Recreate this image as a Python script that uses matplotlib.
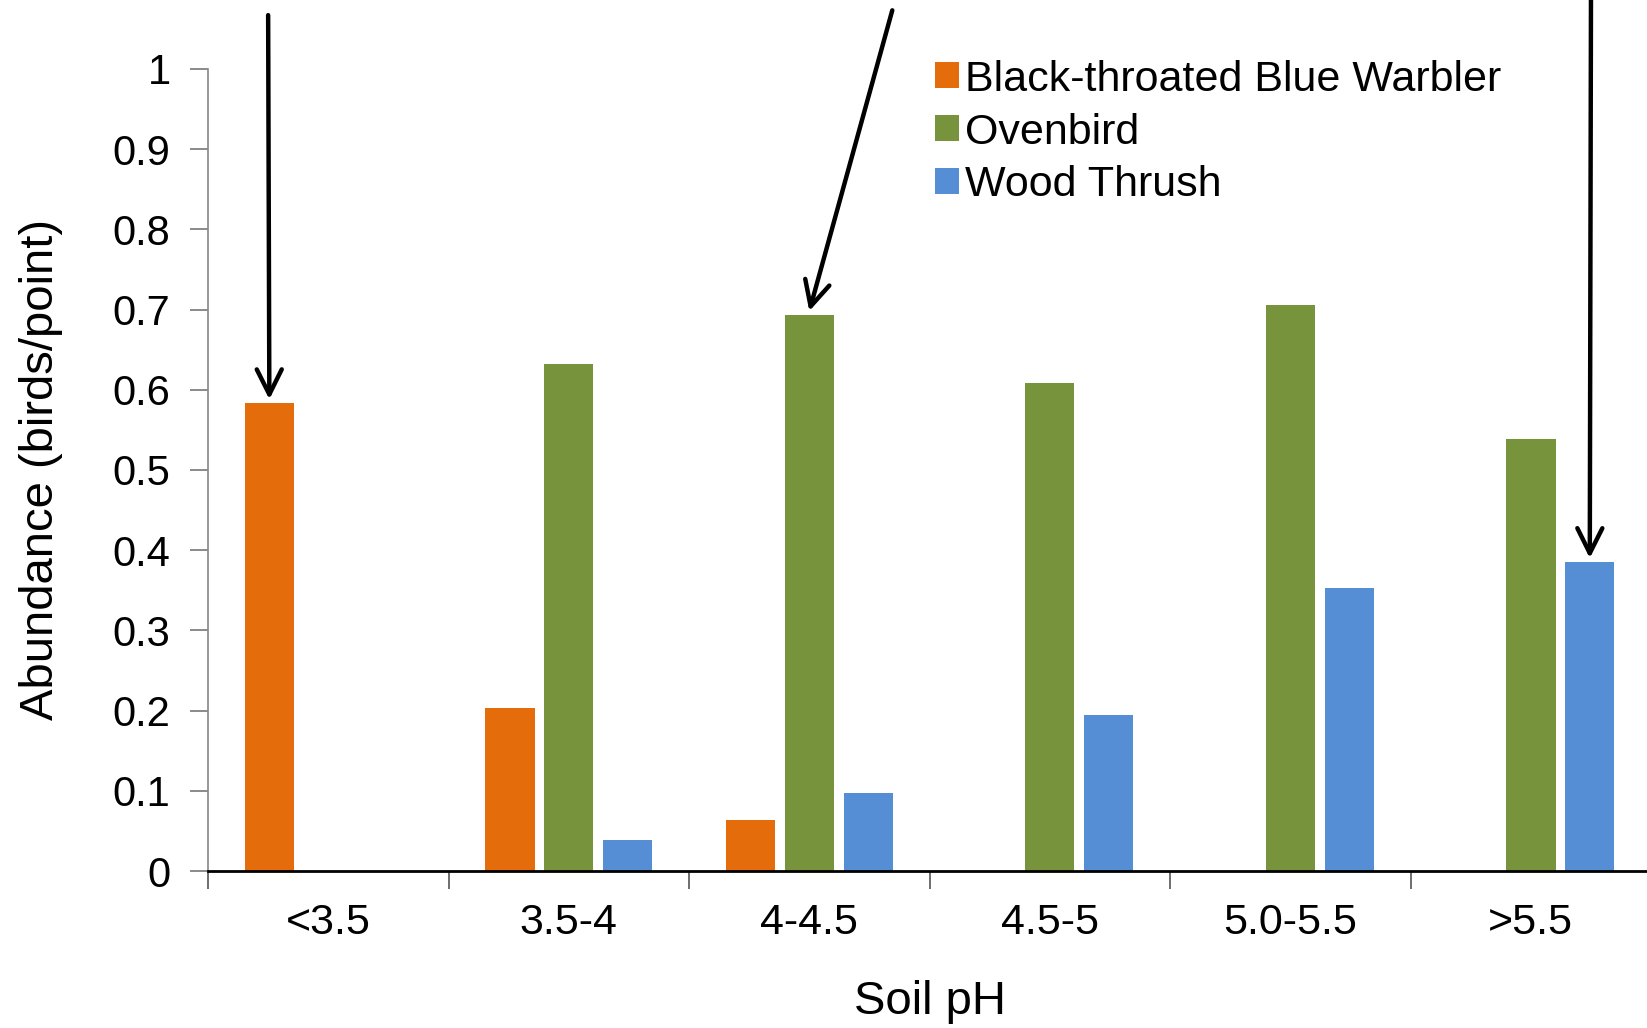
import numpy as np
import matplotlib.pyplot as plt

plt.rcParams['font.family'] = ['Liberation Sans', 'DejaVu Sans']

# soil pH classes and abundance per species (birds/point)
ph_classes = ['<3.5', '3.5-4', '4-4.5', '4.5-5', '5.0-5.5', '>5.5']
species = ['Black-throated Blue Warbler', 'Ovenbird', 'Wood Thrush']
warbler = [0.583, 0.203, 0.064, 0.0, 0.0, 0.0]
ovenbird = [0.0, 0.632, 0.693, 0.609, 0.706, 0.539]
thrush = [0.0, 0.039, 0.097, 0.195, 0.353, 0.385]
colors = ['#E46C0A', '#77933C', '#558ED5']

fig = plt.figure(figsize=(16.47, 10.28), dpi=100)
ax = fig.add_axes([0.1263, 0.1527, 0.8762, 0.7803])

x = np.arange(len(ph_classes))
width = 0.205
offset = 0.245
for i, (vals, name, col) in enumerate(zip([warbler, ovenbird, thrush], species, colors)):
    ax.bar(x + (i - 1) * offset, vals, width, color=col, label=name, zorder=2)

ax.set_xlim(-0.5, len(ph_classes) - 0.5)
ax.set_ylim(0, 1)
ax.set_yticks(np.arange(0, 1.01, 0.1))
ax.set_yticklabels(['0'] + ['%.1f' % v for v in np.arange(0.1, 0.95, 0.1)] + ['1'])

ax.set_xticks(x)
ax.set_xticklabels(ph_classes, fontsize=31)
ax.set_xticks(np.arange(-0.5, len(ph_classes)), minor=True)
ax.tick_params(axis='x', which='major', length=0, pad=23)
ax.tick_params(axis='x', which='minor', length=13, width=1.2, color='#555555')
ax.tick_params(axis='y', labelsize=30, length=13, width=1.2, color='#777777', pad=14)

for s in ['top', 'right']:
    ax.spines[s].set_visible(False)
ax.spines['left'].set_color('#888888')
ax.spines['left'].set_linewidth(1.2)
ax.spines['bottom'].set_linewidth(2)

ax.set_xlabel('Soil pH', fontsize=34, labelpad=27)
ax.set_ylabel('Abundance (birds/point)', fontsize=34, labelpad=36)

leg = ax.legend(loc='upper left', bbox_to_anchor=(0.492, 1.033), frameon=False,
                fontsize=31, handlelength=0.55, handleheight=0.55,
                handletextpad=0.15, labelspacing=0.3, borderaxespad=0)

# arrows pointing at the highlighted bars
arrows = [((-0.245, warbler[0]), (-0.25, 1.067)),
          ((2.0, ovenbird[2]), (2.345, 1.073)),
          ((5.245, thrush[5]), (5.25, 1.10))]
for tip, start in arrows:
    ax.annotate('', xy=(tip[0], tip[1] + 0.005), xytext=start,
                arrowprops=dict(arrowstyle='->,head_length=0.9,head_width=0.45',
                                color='black', lw=3.2, mutation_scale=20,
                                shrinkA=0, shrinkB=0),
                annotation_clip=False)

fig.savefig('out.png', dpi=100)
